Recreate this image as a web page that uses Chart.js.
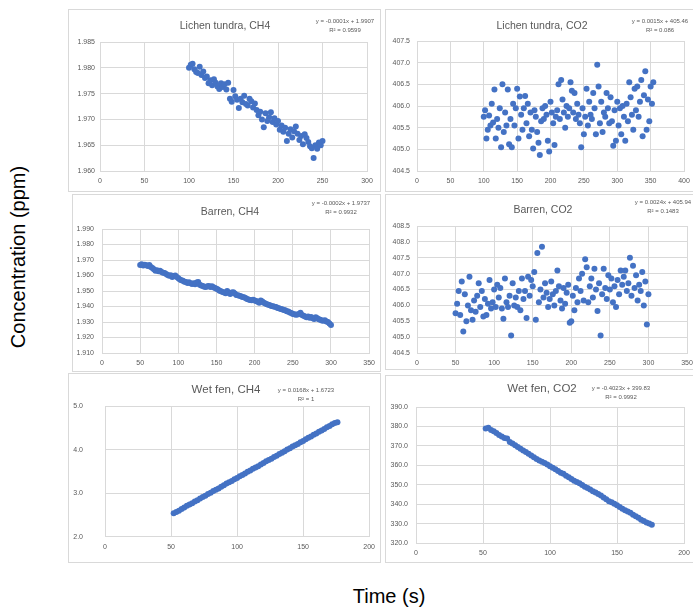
<!DOCTYPE html>
<html>
<head>
<meta charset="utf-8">
<script src="https://cdn.jsdelivr.net/npm/chart.js@4.4.1/dist/chart.umd.min.js"></script>
<style>
  body { margin: 0; width: 693px; height: 607px; overflow: hidden; background: #fff; position: relative; font-family: "Liberation Sans", Arial, sans-serif; }
  .panel { position: absolute; border: 1px solid #d9d9d9; box-sizing: border-box; background: #fff; }
  canvas { position: absolute; }
  .title { position: absolute; color: #595959; white-space: nowrap; transform: translate(-50%, -50%); }
  .eq { position: absolute; color: #595959; font-size: 6px; line-height: 9px; text-align: center; white-space: nowrap; transform: translateX(-50%); }
  .axis-label { position: absolute; color: #000; font-size: 20px; white-space: nowrap; transform: translate(-50%, -50%); }
</style>
</head>
<body>
<div class="axis-label" style="left:18px; top:257px; transform:translate(-50%,-50%) rotate(-90deg);">Concentration (ppm)</div>
<div class="axis-label" style="left:389px; top:596px;">Time (s)</div>
<script>
// Lichen tundra, time (s) and concentration (ppm)
const lichenCh4Time = [100,102,104,106,108,110,112,114,116,118,120,122,124,126,128,130,132,134,136,138,140,142,144,146,148,150,152,154,156,158,160,162,164,166,168,170,172,174,176,178,180,182,184,186,188,190,192,194,196,198,200,202,204,206,208,210,212,214,216,218,220,222,224,226,228,230,232,234,236,238,240,242,244,246,248,250];
const lichenCh4 = [
  1.9800,1.9806,1.9808,1.9797,1.9792,1.9790,1.9802,1.9786,1.9793,1.9780,
  1.9783,1.9770,1.9776,1.9766,1.9778,1.9771,1.9764,1.9759,1.9770,1.9763,
  1.9768,1.9758,1.9771,1.9740,1.9734,1.9757,1.9745,1.9738,1.9722,1.9740,
  1.9733,1.9746,1.9730,1.9727,1.9740,1.9735,1.9723,1.9731,1.9718,1.9708,
  1.9715,1.9700,1.9685,1.9712,1.9697,1.9704,1.9714,1.9695,1.9702,1.9690,
  1.9697,1.9680,1.9688,1.9676,1.9684,1.9658,1.9672,1.9681,1.9665,1.9677,
  1.9686,1.9672,1.9660,1.9668,1.9652,1.9671,1.9664,1.9656,1.9648,1.9644,
  1.9625,1.9650,1.9643,1.9655,1.9650,1.9658
];
const lichenCo2Time = [100,102,104,106,108,110,112,114,116,118,120,122,124,126,128,130,132,134,136,138,140,142,144,146,148,150,152,154,156,158,160,162,164,166,168,170,172,174,176,178,180,182,184,186,188,190,192,194,196,198,200,202,204,206,208,210,212,214,216,218,220,222,224,226,228,230,232,234,236,238,240,242,244,246,248,250,252,254,256,258,260,262,264,266,268,270,272,274,276,278,280,282,284,286,288,290,292,294,296,298,300,302,304,306,308,310,312,314,316,318,320,322,324,326,328,330,332,334,336,338,340,342,344,346,348,350,352,354];
const lichenCo2 = [
  405.75,405.90,405.25,405.45,405.78,405.55,406.05,405.62,406.38,405.25,
  405.70,405.50,405.95,405.05,406.50,405.40,405.85,405.55,406.38,405.12,
  405.70,405.05,406.05,405.55,405.95,406.40,405.25,406.22,405.80,405.45,
  405.95,406.23,405.60,406.05,405.30,405.85,405.45,405.02,405.90,405.75,
  405.40,405.15,404.87,405.65,405.95,405.70,406.00,405.80,405.20,404.95,
  406.10,405.85,405.60,405.10,405.75,405.90,406.50,405.70,406.60,406.15,
  405.85,405.50,406.00,405.75,405.95,406.55,406.35,405.85,406.30,405.70,
  406.05,405.80,405.60,405.05,405.95,405.35,405.75,406.40,405.55,406.10,
  405.80,405.70,406.30,405.95,405.35,406.95,406.45,405.60,406.10,405.40,
  405.85,405.75,406.30,405.95,405.60,406.20,405.65,405.08,405.90,405.20,
  406.10,405.55,405.95,405.35,406.00,405.75,405.20,406.05,405.65,406.55,
  406.20,405.80,405.45,406.40,405.90,406.45,405.75,406.10,406.60,405.30,
  406.25,406.80,405.45,406.15,405.65,406.45,406.05,406.55
];

// Barren
const barrenTime = [50,52,54,56,58,60,62,64,66,68,70,72,74,76,78,80,82,84,86,88,90,92,94,96,98,100,102,104,106,108,110,112,114,116,118,120,122,124,126,128,130,132,134,136,138,140,142,144,146,148,150,152,154,156,158,160,162,164,166,168,170,172,174,176,178,180,182,184,186,188,190,192,194,196,198,200,202,204,206,208,210,212,214,216,218,220,222,224,226,228,230,232,234,236,238,240,242,244,246,248,250,252,254,256,258,260,262,264,266,268,270,272,274,276,278,280,282,284,286,288,290,292,294,296,298,300];
const barrenCh4 = [
  1.9668,1.9672,1.9665,1.9670,1.9666,1.9662,1.9667,1.9655,1.9648,1.9640,
  1.9630,1.9634,1.9628,1.9630,1.9622,1.9618,1.9616,1.9610,1.9604,1.9598,
  1.9602,1.9590,1.9597,1.9600,1.9590,1.9582,1.9575,1.9570,1.9566,1.9560,
  1.9558,1.9552,1.9556,1.9550,1.9545,1.9550,1.9543,1.9555,1.9558,1.9540,
  1.9535,1.9532,1.9528,1.9526,1.9530,1.9532,1.9526,1.9530,1.9524,1.9520,
  1.9515,1.9510,1.9502,1.9498,1.9493,1.9490,1.9486,1.9500,1.9488,1.9480,
  1.9490,1.9492,1.9484,1.9475,1.9472,1.9470,1.9466,1.9462,1.9460,1.9455,
  1.9448,1.9445,1.9442,1.9440,1.9444,1.9438,1.9436,1.9430,1.9425,1.9438,
  1.9432,1.9424,1.9420,1.9415,1.9412,1.9408,1.9404,1.9402,1.9398,1.9396,
  1.9390,1.9388,1.9384,1.9382,1.9378,1.9376,1.9370,1.9368,1.9362,1.9358,
  1.9352,1.9350,1.9346,1.9348,1.9352,1.9360,1.9345,1.9340,1.9335,1.9330,
  1.9336,1.9328,1.9332,1.9325,1.9320,1.9330,1.9324,1.9318,1.9315,1.9310,
  1.9308,1.9312,1.9304,1.9300,1.9290,1.9280
];
const barrenCo2 = [
  405.75,406.05,406.45,405.70,406.75,405.18,406.35,405.50,406.00,406.90,
  405.85,405.55,406.15,405.80,406.30,406.70,405.95,406.45,405.65,406.20,
  405.70,406.05,406.80,405.90,406.10,406.50,405.95,406.65,406.25,406.55,
  405.90,405.58,406.85,406.10,405.95,406.30,405.05,406.70,406.00,406.25,
  405.95,406.45,405.85,406.85,406.20,406.45,405.60,406.90,406.30,406.80,
  406.60,407.05,405.55,407.65,406.10,406.50,407.85,406.25,406.70,406.40,
  405.95,406.20,406.75,406.35,406.00,406.45,407.10,406.60,406.15,405.90,
  406.55,406.05,406.40,406.65,405.45,405.50,406.30,405.85,406.55,406.10,
  406.85,406.45,407.00,406.15,407.45,407.20,406.10,406.60,406.85,406.25,
  407.15,406.50,405.82,406.70,405.05,406.35,407.15,406.55,406.20,406.95,
  406.50,406.85,406.10,406.60,405.95,406.80,406.35,407.10,406.65,406.90,
  407.10,406.45,406.70,407.50,406.30,407.25,406.55,406.95,406.15,406.65,
  406.45,407.05,406.00,406.75,405.40,406.35
];

// Wet fen
const wetFenTime = [52,54,56,58,60,62,64,66,68,70,72,74,76,78,80,82,84,86,88,90,92,94,96,98,100,102,104,106,108,110,112,114,116,118,120,122,124,126,128,130,132,134,136,138,140,142,144,146,148,150,152,154,156,158,160,162,164,166,168,170,172,174,176];
const wetFenCh4 = [
  2.54,2.57,2.60,2.64,2.67,2.71,2.74,2.77,2.81,2.84,
  2.88,2.91,2.94,2.98,3.01,3.05,3.08,3.11,3.15,3.18,
  3.22,3.25,3.28,3.32,3.35,3.39,3.42,3.45,3.49,3.52,
  3.56,3.59,3.62,3.66,3.69,3.73,3.76,3.79,3.83,3.86,
  3.90,3.93,3.96,4.00,4.03,4.07,4.10,4.13,4.17,4.20,
  4.24,4.27,4.30,4.34,4.37,4.41,4.44,4.47,4.51,4.54,
  4.58,4.61,4.63
];
const wetFenCo2 = [
  378.9,379.3,378.2,377.5,376.6,375.6,374.8,374.0,373.8,372.0,
  371.2,370.3,369.4,368.5,367.6,366.8,366.0,365.0,364.2,363.2,
  362.5,361.8,361.2,360.4,359.5,358.7,357.9,357.0,356.2,355.6,
  354.6,353.8,353.0,352.1,351.4,350.8,349.8,349.0,348.3,347.5,
  346.6,346.0,345.2,344.4,343.4,342.5,341.5,341.0,340.2,339.4,
  338.5,337.6,336.8,336.2,335.6,334.6,333.8,333.0,332.0,331.3,
  330.6,330.0,329.4
];

// Titles and trendline labels
const titles = ['Lichen tundra, CH4', 'Lichen tundra, CO2', 'Barren, CH4', 'Barren, CO2', 'Wet fen, CH4', 'Wet fen, CO2'];
const equations = ['y = -0.0001x + 1.9907', 'y = 0.0015x + 405.46', 'y = -0.0002x + 1.9737', 'y = 0.0024x + 405.94', 'y = 0.0168x + 1.6723', 'y = -0.4023x + 399.83'];
const rSquared = ['R² = 0.9599', 'R² = 0.086', 'R² = 0.9932', 'R² = 0.1483', 'R² = 1', 'R² = 0.9992'];

// Axis ranges per panel [min, max, step, decimals]
const xRanges = [[0, 300, 50], [0, 400, 50], [0, 350, 50], [0, 350, 50], [0, 200, 50], [0, 200, 50]];
const yRanges = [[1.960, 1.985, 0.005, 3], [404.5, 407.5, 0.5, 1], [1.910, 1.990, 0.010, 3], [404.5, 408.5, 0.5, 1], [2.0, 5.0, 1.0, 1], [320, 390, 10, 1]];

Chart.defaults.font.family = '"Liberation Sans", Arial, sans-serif';

// Layout: box = panel border, plot = chart area, in page pixels
const panels = [
  { times: lichenCh4Time, values: lichenCh4, box: [68, 9, 381, 192], plot: [100, 42, 367, 171], title: [225, 25, 10.5], eq: [345, 17], yPad: 5 },
  { times: lichenCo2Time, values: lichenCo2, box: [385, 9, 705, 192], plot: [417, 41, 684, 171], title: [542, 25, 10.5], eq: [660, 17], yPad: 7 },
  { times: barrenTime, values: barrenCh4, box: [72, 194, 381, 372], plot: [102, 229, 370, 353], title: [230, 211, 10.5], eq: [341, 199], yPad: 8 },
  { times: barrenTime, values: barrenCo2, box: [385, 194, 705, 370], plot: [417, 226, 687, 353], title: [543, 209, 10.5], eq: [663, 198], yPad: 7 },
  { times: wetFenTime, values: wetFenCh4, box: [68, 373, 381, 563], plot: [105, 406, 370, 543], title: [226, 389, 11.5], eq: [306, 386], yPad: 22 },
  { times: wetFenTime, values: wetFenCo2, box: [385, 375, 705, 563], plot: [416, 407, 684, 543], title: [542, 388, 11.5], eq: [621, 384], yPad: 8 }
];

panels.forEach((p, i) => {
  const [bl, bt, br, bb] = p.box;
  const [pl, pt, pr, pb] = p.plot;

  const div = document.createElement('div');
  div.className = 'panel';
  Object.assign(div.style, { left: bl + 'px', top: bt + 'px', width: (br - bl) + 'px', height: (bb - bt) + 'px' });
  document.body.appendChild(div);

  const cv = document.createElement('canvas');
  cv.width = br - bl;
  cv.height = bb - bt;
  Object.assign(cv.style, { left: bl + 'px', top: bt + 'px', width: (br - bl) + 'px', height: (bb - bt) + 'px' });
  document.body.appendChild(cv);

  const t = document.createElement('div');
  t.className = 'title';
  t.textContent = titles[i];
  Object.assign(t.style, { left: p.title[0] + 'px', top: p.title[1] + 'px', fontSize: p.title[2] + 'px' });
  document.body.appendChild(t);

  const e = document.createElement('div');
  e.className = 'eq';
  e.innerHTML = equations[i] + '<br>' + rSquared[i];
  Object.assign(e.style, { left: p.eq[0] + 'px', top: p.eq[1] + 'px' });
  document.body.appendChild(e);

  const [xMin, xMax, xStep] = xRanges[i];
  const [yMin, yMax, yStep, dec] = yRanges[i];

  new Chart(cv, {
    type: 'scatter',
    data: {
      datasets: [{
        data: p.times.map((x, k) => ({ x: x, y: p.values[k] })),
        backgroundColor: '#4472C4',
        borderWidth: 0,
        pointRadius: 3
      }]
    },
    options: {
      responsive: false,
      animation: false,
      layout: { padding: { top: pt - bt, right: br - pr, left: 0, bottom: 0 } },
      plugins: { legend: { display: false }, tooltip: { enabled: false } },
      scales: {
        x: {
          type: 'linear', min: xMin, max: xMax,
          ticks: { stepSize: xStep, padding: 6, maxRotation: 0, autoSkip: false, color: '#595959', font: { size: 7 } },
          grid: { color: '#d9d9d9', drawTicks: false },
          border: { color: '#d9d9d9' },
          afterFit: s => { s.height = bb - pb; }
        },
        y: {
          min: yMin, max: yMax,
          ticks: { stepSize: yStep, padding: p.yPad, autoSkip: false, color: '#595959', font: { size: 7 }, callback: v => Number(v).toFixed(dec) },
          grid: { color: '#d9d9d9', drawTicks: false },
          border: { color: '#d9d9d9' },
          afterFit: s => { s.width = pl - bl; }
        }
      }
    }
  });
});
</script>
</body>
</html>
